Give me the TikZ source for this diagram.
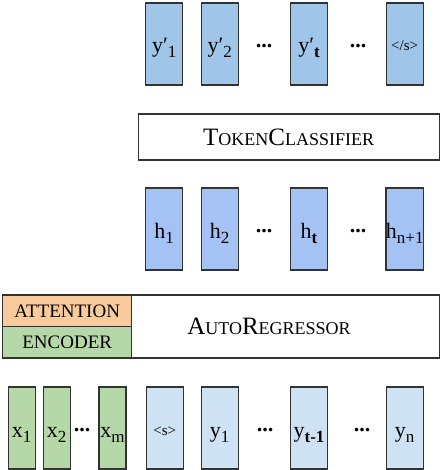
\documentclass[tikz,border=0pt]{standalone}
\usepackage{fontspec}
\setmainfont{Liberation Serif}
\definecolor{ypcol}{HTML}{9FC5E8}
\definecolor{hcol}{HTML}{A4C2F4}
\definecolor{ycol}{HTML}{CFE2F3}
\definecolor{xcol}{HTML}{B6D7A8}
\definecolor{attcol}{HTML}{F9CB9C}
\definecolor{edgecol}{HTML}{333333}
% lowered subscript as in the drawing
\newcommand{\lo}[1]{\raisebox{-5pt}{\fontsize{17}{19}\selectfont #1}}
% hand-made small caps
\newcommand{\fsc}[2]{#1{\fontsize{18}{21}\selectfont #2}}
\begin{document}
\begin{tikzpicture}[x=1pt, y=-1pt,
    every node/.style = {inner sep=0pt, outer sep=0pt},
    tok/.style = {shape=rectangle, draw=edgecol, line width=1.3pt,
      minimum width=37pt, minimum height=82pt,
      text height=18pt, text depth=0pt,
      font=\fontsize{22}{26}\selectfont},
    ytok/.style = {tok, fill=ypcol},
    htok/.style = {tok, fill=hcol},
    intok/.style = {tok, fill=ycol},
    xtok/.style = {tok, fill=xcol, minimum width=27pt},
    small/.style = {text height=14pt, font=\fontsize{15}{17}\selectfont},
    layer/.style = {shape=rectangle, draw=edgecol, line width=1.3pt,
      font=\fontsize{25}{29}\selectfont},
    dots/.style = {font=\fontsize{22}{26}\selectfont\bfseries},
    ]
  \useasboundingbox (0,0) rectangle (442,470);
  \clip (0,0) rectangle (442,470);

  % outputs
  \node[ytok] (yp1) at (164.2,44) {y′\lo{1}};
  \node[ytok] (yp2) at (219.7,44) {y′\lo{2}};
  \node[ytok] (ypt) at (309,44) {y′\lo{\textbf{t}}};
  \node[ytok, small] (eos) at (404.7,44) {</s>};
  \node[dots] (dy1) at (264,46) {...};
  \node[dots] (dy2) at (358,46) {...};

  % classifier
  \node[layer, minimum width=301pt, minimum height=46pt] (cls) at (288.7,137)
    {\fsc{T}{OKEN}\fsc{C}{LASSIFIER}};

  % hidden states
  \node[htok] (h1) at (164.2,229) {h\lo{1}};
  \node[htok] (h2) at (219.7,229) {h\lo{2}};
  \node[htok] (ht) at (309,229) {h\lo{\textbf{t}}};
  \node[htok] (hn) at (404.7,229) {h\lo{n+1}};
  \node[dots] (dh1) at (264,231) {...};
  \node[dots] (dh2) at (358,231) {...};

  % autoregressor with encoder
  \node[layer, minimum width=437pt, minimum height=63pt] (ar) at (221,326.4) {};
  \node[font=\fontsize{25}{29}\selectfont] (arlab) at (269,326.4)
    {\fsc{A}{UTO}\fsc{R}{EGRESSOR}};
  \node[layer, fill=attcol, minimum width=129pt, minimum height=31.7pt,
    font=\fontsize{19}{22}\selectfont] (att) at (67.2,310.9) {ATTENTION};
  \node[layer, fill=xcol, minimum width=129pt, minimum height=31pt,
    font=\fontsize{19}{22}\selectfont] (enc) at (67.2,342.2) {ENCODER};

  % inputs
  \node[xtok] (x1) at (21.7,428) {x\lo{1}};
  \node[xtok] (x2) at (56.7,428) {x\lo{2}};
  \node[xtok] (xm) at (112.5,428) {x\lo{m}};
  \node[dots] (dx) at (82,430) {...};
  \node[intok, small] (bos) at (164.7,428) {<s>};
  \node[intok] (y1) at (219.7,428) {y\lo{1}};
  \node[intok] (yt) at (309,428) {y\lo{\textbf{t-1}}};
  \node[intok] (yn) at (404.7,428) {y\lo{n}};
  \node[dots] (dx1) at (265,430) {...};
  \node[dots] (dx2) at (362,430) {...};
\end{tikzpicture}
\end{document}
